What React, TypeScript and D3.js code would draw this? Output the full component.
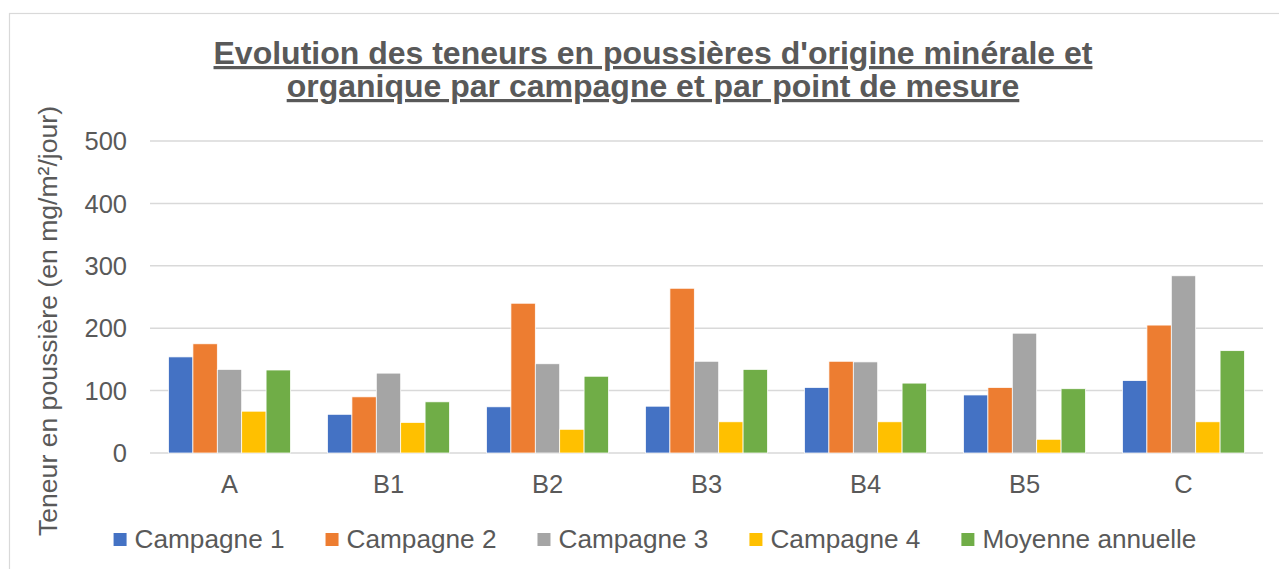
import React, { useEffect, useRef } from "react";
import * as d3 from "d3";

const categories = ["A", "B1", "B2", "B3", "B4", "B5", "C"];
const seriesNames = ["Campagne 1", "Campagne 2", "Campagne 3", "Campagne 4", "Moyenne annuelle"];
const campagne1 = [154, 62, 74, 75, 105, 93, 116];
const campagne2 = [175, 90, 240, 264, 147, 105, 205];
const campagne3 = [134, 128, 143, 147, 146, 192, 284];
const campagne4 = [67, 49, 38, 50, 50, 22, 50];
const moyenne = [133, 82, 123, 134, 112, 103, 164];
const yTicks = [0, 100, 200, 300, 400, 500];
const colors = ["#4472C4", "#ED7D31", "#A5A5A5", "#FFC000", "#70AD47"];

const titleLines = [
  "Evolution des teneurs en poussières d'origine minérale et",
  "organique par campagne et par point de mesure",
];

const W = 1279;
const H = 569;
const FONT = "'Liberation Sans', Arial, sans-serif";
const TEXT = "#595959";

const App: React.FC = () => {
  const svgRef = useRef<SVGSVGElement>(null);

  useEffect(() => {
    if (!svgRef.current) return;
    const svg = d3.select(svgRef.current);
    svg.selectAll("*").remove();

    const series = [campagne1, campagne2, campagne3, campagne4, moyenne];
    const margin = { top: 141, right: 16, bottom: 116, left: 150 };

    // chart area frame
    svg
      .append("rect")
      .attr("x", 9.5)
      .attr("y", 13.5)
      .attr("width", W + 20)
      .attr("height", H + 20)
      .attr("fill", "#fff")
      .attr("stroke", "#D9D9D9")
      .attr("stroke-width", 1.2);

    const x0 = d3
      .scaleBand<string>()
      .domain(categories)
      .range([margin.left, W - margin.right])
      .paddingInner(0.233)
      .paddingOuter(0.1165);

    const x1 = d3
      .scaleBand<number>()
      .domain(d3.range(series.length))
      .range([0, x0.bandwidth()]);

    const y = d3
      .scaleLinear()
      .domain([0, 500])
      .range([H - margin.bottom, margin.top]);

    // gridlines
    svg
      .append("g")
      .selectAll("line")
      .data(yTicks)
      .join("line")
      .attr("x1", margin.left)
      .attr("x2", W - margin.right)
      .attr("y1", (d) => y(d))
      .attr("y2", (d) => y(d))
      .attr("stroke", "#D9D9D9")
      .attr("stroke-width", 1.5);

    // y tick labels
    svg
      .append("g")
      .selectAll("text")
      .data(yTicks)
      .join("text")
      .attr("x", 127)
      .attr("y", (d) => y(d))
      .attr("dy", "0.36em")
      .attr("text-anchor", "end")
      .attr("font-family", FONT)
      .attr("font-size", 25.5)
      .attr("fill", TEXT)
      .text((d) => d);

    // bars
    const groups = svg
      .append("g")
      .selectAll("g")
      .data(categories)
      .join("g")
      .attr("transform", (d) => `translate(${x0(d)},0)`);

    groups
      .selectAll("rect")
      .data((_, i) => series.map((s, k) => ({ k, v: s[i] })))
      .join("rect")
      .attr("x", (d) => x1(d.k) as number)
      .attr("width", x1.bandwidth())
      .attr("y", (d) => y(d.v))
      .attr("height", (d) => y(0) - y(d.v))
      .attr("fill", (d) => colors[d.k])
      .attr("stroke", "#fff")
      .attr("stroke-width", 0.75);

    // x labels
    svg
      .append("g")
      .selectAll("text")
      .data(categories)
      .join("text")
      .attr("x", (d) => (x0(d) as number) + x0.bandwidth() / 2)
      .attr("y", 493)
      .attr("text-anchor", "middle")
      .attr("font-family", FONT)
      .attr("font-size", 25.5)
      .attr("fill", TEXT)
      .text((d) => d);

    // y axis title
    svg
      .append("text")
      .attr("transform", `translate(57,321) rotate(-90)`)
      .attr("text-anchor", "middle")
      .attr("font-family", FONT)
      .attr("font-size", 26.6)
      .attr("fill", TEXT)
      .text("Teneur en poussière (en mg/m²/jour)");

    // title
    svg
      .append("g")
      .selectAll("text")
      .data(titleLines)
      .join("text")
      .attr("x", 653)
      .attr("y", (_, i) => 64 + i * 33)
      .attr("text-anchor", "middle")
      .attr("font-family", FONT)
      .attr("font-size", 32)
      .attr("font-weight", "bold")
      .attr("text-decoration", "underline")
      .attr("fill", TEXT)
      .text((d) => d);

    // legend
    const legend = svg.append("g");
    const items = legend
      .selectAll("g")
      .data(seriesNames)
      .join("g");
    items
      .append("rect")
      .attr("width", 13)
      .attr("height", 13)
      .attr("y", 533)
      .attr("fill", (_, i) => colors[i]);
    const labels = items
      .append("text")
      .attr("x", 21)
      .attr("y", 548)
      .attr("font-family", FONT)
      .attr("font-size", 26.2)
      .attr("fill", TEXT)
      .text((d) => d);
    const widths = labels.nodes().map((n) => 21 + (n as SVGTextElement).getComputedTextLength());
    const gap = 41;
    const total = d3.sum(widths) + gap * (widths.length - 1);
    let cx = 655 - total / 2;
    items.attr("transform", (_, i) => {
      const t = `translate(${cx},0)`;
      cx += widths[i] + gap;
      return t;
    });
  }, []);

  return (
    <svg
      ref={svgRef}
      width={W}
      height={H}
      style={{ position: "absolute", left: 0, top: 0, background: "#fff" }}
    />
  );
};

export default App;
